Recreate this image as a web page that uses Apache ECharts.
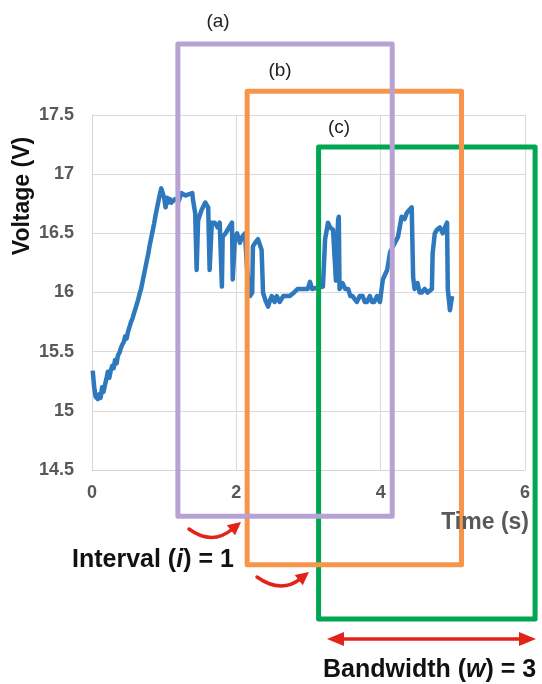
<!DOCTYPE html>
<html>
<head>
<meta charset="utf-8">
<script src="https://cdn.jsdelivr.net/npm/echarts@6/dist/echarts.min.js"></script>
<style>
  html, body { margin: 0; padding: 0; background: #fff; }
  #chart { width: 542px; height: 684px; }
</style>
</head>
<body>
<div id="chart"></div>
<script>
// Measured voltage trace (time in s, voltage in V)
const time = [
  0.01, 0.03, 0.05, 0.08, 0.10, 0.12, 0.14, 0.16, 0.18, 0.20, 0.22, 0.24, 0.26, 0.28,
  0.30, 0.32, 0.34, 0.36, 0.38, 0.40, 0.42, 0.44, 0.46, 0.48, 0.50, 0.52, 0.54, 0.56,
  0.58, 0.60, 0.62, 0.64, 0.66, 0.68, 0.70, 0.72, 0.74, 0.76, 0.78, 0.80, 0.82, 0.84,
  0.86, 0.88, 0.90, 0.92, 0.94, 0.96, 0.98, 1.00, 1.02, 1.04, 1.06, 1.08, 1.10, 1.15,
  1.20, 1.24, 1.30, 1.39, 1.40, 1.43, 1.45, 1.47, 1.52, 1.57, 1.61, 1.63, 1.66, 1.70,
  1.74, 1.77, 1.80, 1.81, 1.85, 1.88, 1.94, 1.95, 1.98, 2.01, 2.05, 2.08, 2.12, 2.15,
  2.19, 2.22, 2.23, 2.26, 2.30, 2.35, 2.37, 2.40, 2.44, 2.47, 2.49, 2.53, 2.56, 2.60,
  2.65, 2.70, 2.74, 2.80, 2.85, 2.92, 2.99, 3.02, 3.05, 3.12, 3.20, 3.23, 3.27, 3.30,
  3.34, 3.38, 3.41, 3.42, 3.43, 3.47, 3.51, 3.55, 3.58, 3.61, 3.67, 3.71, 3.75, 3.78,
  3.81, 3.85, 3.88, 3.91, 3.95, 3.99, 4.03, 4.09, 4.13, 4.18, 4.24, 4.29, 4.33, 4.36,
  4.40, 4.43, 4.45, 4.47, 4.51, 4.54, 4.57, 4.61, 4.65, 4.71, 4.72, 4.75, 4.78, 4.82,
  4.86, 4.89, 4.92, 4.93, 4.96, 4.99
];
const voltage = [
  15.34, 15.20, 15.12, 15.10, 15.14, 15.11, 15.20, 15.16, 15.22, 15.27, 15.33, 15.28, 15.34, 15.38,
  15.36, 15.43, 15.40, 15.47, 15.49, 15.53, 15.56, 15.58, 15.63, 15.61, 15.67, 15.71, 15.75, 15.78,
  15.82, 15.86, 15.90, 15.94, 15.99, 16.03, 16.09, 16.15, 16.21, 16.27, 16.33, 16.40, 16.46, 16.52,
  16.58, 16.65, 16.71, 16.77, 16.83, 16.88, 16.87, 16.80, 16.72, 16.80, 16.76, 16.79, 16.76, 16.79,
  16.77, 16.84, 16.82, 16.84, 16.78, 16.67, 16.19, 16.61, 16.70, 16.76, 16.72, 16.19, 16.59, 16.59,
  16.55, 16.59, 16.05, 16.47, 16.50, 16.53, 16.59, 16.11, 16.45, 16.50, 16.42, 16.47, 16.50, 16.19,
  15.97, 16.00, 16.39, 16.42, 16.45, 16.36, 16.00, 15.94, 15.88, 15.94, 15.97, 15.92, 15.97, 15.92,
  15.97, 15.97, 15.97, 16.00, 16.03, 16.03, 16.03, 16.09, 16.03, 16.04, 16.05, 16.45, 16.59, 16.55,
  16.53, 16.10, 16.61, 16.64, 16.03, 16.08, 16.03, 16.03, 15.97, 15.97, 15.92, 15.97, 15.97, 15.92,
  15.92, 15.97, 15.92, 15.92, 15.97, 15.92, 16.11, 16.19, 16.34, 16.40, 16.47, 16.64, 16.62, 16.67,
  16.70, 16.72, 16.13, 16.03, 16.08, 16.00, 16.00, 16.03, 16.00, 16.03, 16.33, 16.50, 16.53, 16.55,
  16.50, 16.55, 16.59, 16.03, 15.85, 15.97
];

// Analysis windows: [start, end] in time, [bottom, top] in voltage
const windowA = { t: [1.19, 4.16], v: [14.11, 18.10] };
const windowB = { t: [2.15, 5.12], v: [13.70, 17.70] };
const windowC = { t: [3.14, 6.14], v: [13.24, 17.23] };

const xTicks = [0, 2, 4, 6];
const yTicks = [14.5, 15, 15.5, 16, 16.5, 17, 17.5];

const gray = '#595959';
const red = '#E2231A';
const fontStack = '"Liberation Sans", Arial, sans-serif';

// Curved arrow: quadratic curve ending at an arrowhead whose tip is (x1, y1)
function curvedArrow(x0, y0, cx, cy, x1, y1) {
  const dx = x1 - cx, dy = y1 - cy;
  const len = Math.hypot(dx, dy);
  const ux = dx / len, uy = dy / len;
  const hl = 13, hw = 6.5;
  const bx = x1 - ux * hl, by = y1 - uy * hl;
  return [
    {
      type: 'bezierCurve', z: 100,
      shape: { x1: x0, y1: y0, cpx1: cx, cpy1: cy, x2: bx + ux * 2, y2: by + uy * 2 },
      style: { stroke: red, lineWidth: 3.5, fill: null, lineCap: 'round' }
    },
    {
      type: 'polygon', z: 100,
      shape: { points: [[x1, y1], [bx - uy * hw, by + ux * hw], [bx + uy * hw, by - ux * hw]] },
      style: { fill: red }
    }
  ];
}

function doubleArrow(xa, xb, y) {
  const hl = 17, hw = 7;
  return [
    { type: 'line', z: 100, shape: { x1: xa + hl - 2, y1: y, x2: xb - hl + 2, y2: y }, style: { stroke: red, lineWidth: 3.5 } },
    { type: 'polygon', z: 100, shape: { points: [[xa, y], [xa + hl, y - hw], [xa + hl, y + hw]] }, style: { fill: red } },
    { type: 'polygon', z: 100, shape: { points: [[xb, y], [xb - hl, y - hw], [xb - hl, y + hw]] }, style: { fill: red } }
  ];
}

const boldFont = 'bold 25px ' + fontStack;
const boldItalicFont = 'italic bold 25px ' + fontStack;

const chart = echarts.init(document.getElementById('chart'), null, { renderer: 'canvas' });

const axisLabelStyle = { color: gray, fontSize: 18, fontWeight: 'bold', fontFamily: fontStack };

chart.setOption({
  animation: false,
  backgroundColor: '#ffffff',
  grid: { left: 92, right: 17, top: 115, bottom: 214 },
  xAxis: {
    type: 'value',
    min: xTicks[0],
    max: xTicks[xTicks.length - 1],
    interval: 2,
    axisLine: { show: true, lineStyle: { color: '#d4d4d4', width: 1 } },
    axisTick: { show: false },
    axisLabel: Object.assign({ margin: 14 }, axisLabelStyle),
    splitLine: { show: true, lineStyle: { color: '#d9d9d9', width: 1 } }
  },
  yAxis: {
    type: 'value',
    min: yTicks[0],
    max: yTicks[yTicks.length - 1],
    interval: 0.5,
    axisLine: { show: true, lineStyle: { color: '#d4d4d4', width: 1 } },
    axisTick: { show: false },
    axisLabel: Object.assign({ margin: 18 }, axisLabelStyle),
    splitLine: { show: true, lineStyle: { color: '#d9d9d9', width: 1 } }
  },
  series: [
    {
      type: 'line',
      data: time.map((t, i) => [t, voltage[i]]),
      symbol: 'none',
      lineStyle: { color: '#2E78BD', width: 4.5, join: 'round' },
      z: 3
    }
  ]
});

// Window outlines placed through the grid's own coordinate system
function windowRect(w, color) {
  const p0 = chart.convertToPixel({ gridIndex: 0 }, [w.t[0], w.v[1]]);
  const p1 = chart.convertToPixel({ gridIndex: 0 }, [w.t[1], w.v[0]]);
  return {
    type: 'rect', z: 50,
    shape: { x: p0[0], y: p0[1], width: p1[0] - p0[0], height: p1[1] - p0[1] },
    style: { stroke: color, lineWidth: 5, fill: null, lineJoin: 'round' }
  };
}

chart.setOption({
  graphic: [
    windowRect(windowC, '#00A651'),
    windowRect(windowB, '#F7964A'),
    windowRect(windowA, '#B7A2D3'),
    {
      type: 'text', x: 23, y: 196, rotation: Math.PI / 2, z: 100,
      style: {
        text: 'Voltage (V)', font: 'bold 23px ' + fontStack,
        fill: '#111', textAlign: 'center', textVerticalAlign: 'middle'
      }
    },
    {
      type: 'text', x: 529, y: 523, z: 100,
      style: {
        text: 'Time (s)', font: 'bold 23px ' + fontStack,
        fill: gray, textAlign: 'right', textVerticalAlign: 'middle'
      }
    },
    { type: 'text', x: 218, y: 22, z: 100, style: { text: '(a)', font: '19px ' + fontStack, fill: '#222', textAlign: 'center', textVerticalAlign: 'middle' } },
    { type: 'text', x: 280, y: 71, z: 100, style: { text: '(b)', font: '19px ' + fontStack, fill: '#222', textAlign: 'center', textVerticalAlign: 'middle' } },
    { type: 'text', x: 339, y: 128, z: 100, style: { text: '(c)', font: '19px ' + fontStack, fill: '#222', textAlign: 'center', textVerticalAlign: 'middle' } },
    ...curvedArrow(189, 529, 212, 546, 241, 522),
    ...curvedArrow(257, 577, 281, 594, 309, 572),
    {
      type: 'text', x: 72, y: 560, z: 100,
      style: {
        text: '{b|Interval (}{bi|i}{b|) = 1}',
        textVerticalAlign: 'middle',
        rich: {
          b: { font: boldFont, fill: '#111' },
          bi: { font: boldItalicFont, fill: '#111' }
        }
      }
    },
    ...doubleArrow(327, 536, 639),
    {
      type: 'text', x: 323, y: 670, z: 100,
      style: {
        text: '{b|Bandwidth (}{bi|w}{b|) = 3}',
        textVerticalAlign: 'middle',
        rich: {
          b: { font: boldFont, fill: '#111' },
          bi: { font: boldItalicFont, fill: '#111' }
        }
      }
    }
  ]
});
</script>
</body>
</html>
